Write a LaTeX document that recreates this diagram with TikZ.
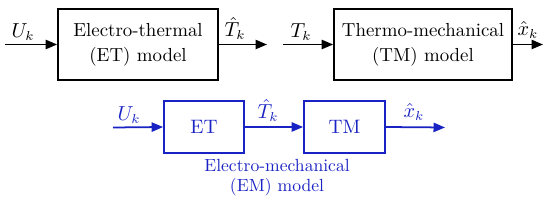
\documentclass[tikz,border=0pt]{standalone}
\usetikzlibrary{arrows.meta}
\definecolor{emblue}{RGB}{25,35,195}
\begin{document}
\begin{tikzpicture}[x=0.54pt,y=-0.54pt,
  blk/.style={draw,line width=0.95pt,minimum height=38.3pt,align=center,inner sep=0pt,font=\fontsize{10.2}{13.5}\selectfont},
  sblk/.style={draw,line width=0.95pt,minimum height=28.1pt,inner sep=0pt,font=\fontsize{10.5}{12}\selectfont},
  arr/.style={line width=0.95pt,-{Triangle[length=6.2pt,width=5pt]}},
  lbl/.style={inner sep=0pt,font=\fontsize{10.5}{12}\selectfont}]
\useasboundingbox (0,0) rectangle (550,206);
% top row
\node[blk,minimum width=86.4pt] (et) at (138,44.5) {Electro-thermal\\(ET) model};
\node[blk,minimum width=96.1pt] (tm) at (423,44.5) {Thermo-mechanical\\(TM) model};
\coordinate (in1) at (5,44.5);
\coordinate (out1) at (267,44.5);
\coordinate (in2) at (283,44.5);
\coordinate (out2) at (543,44.5);
\draw[arr] (in1) -- (et.west);
\draw[arr] (et.east) -- (out1);
\draw[arr] (in2) -- (tm.west);
\draw[arr] (tm.east) -- (out2);
\node[lbl] (u1) at (23,32) {$U_k$};
\node[lbl] (t1) at (235,28.5) {$\hat{T}_k$};
\node[lbl] (t2) at (301,32) {$T_k$};
\node[lbl] (x1) at (528,29.5) {$\hat{x}_k$};
% bottom row
\begin{scope}[emblue,every node/.append style={text=emblue}]
\node[sblk,minimum width=43.2pt] (et2) at (204,127) {ET};
\node[sblk,minimum width=43.7pt] (tm2) at (344.5,127) {TM};
\coordinate (in3) at (113,127.5);
\coordinate (out3) at (445,127.5);
\draw[arr] (in3) -- (et2.west);
\draw[arr] (et2.east) -- (tm2.west);
\draw[arr] (tm2.east) -- (out3);
\node[lbl] (u3) at (129,115) {$U_k$};
\node[lbl] (t3) at (268,110.5) {$\hat{T}_k$};
\node[lbl] (x3) at (414,111.5) {$\hat{x}_k$};
\node[align=center,inner sep=0pt,font=\fontsize{9.5}{10.8}\selectfont] (em) at (277,178) {Electro-mechanical\\(EM) model};
\end{scope}
\end{tikzpicture}
\end{document}
